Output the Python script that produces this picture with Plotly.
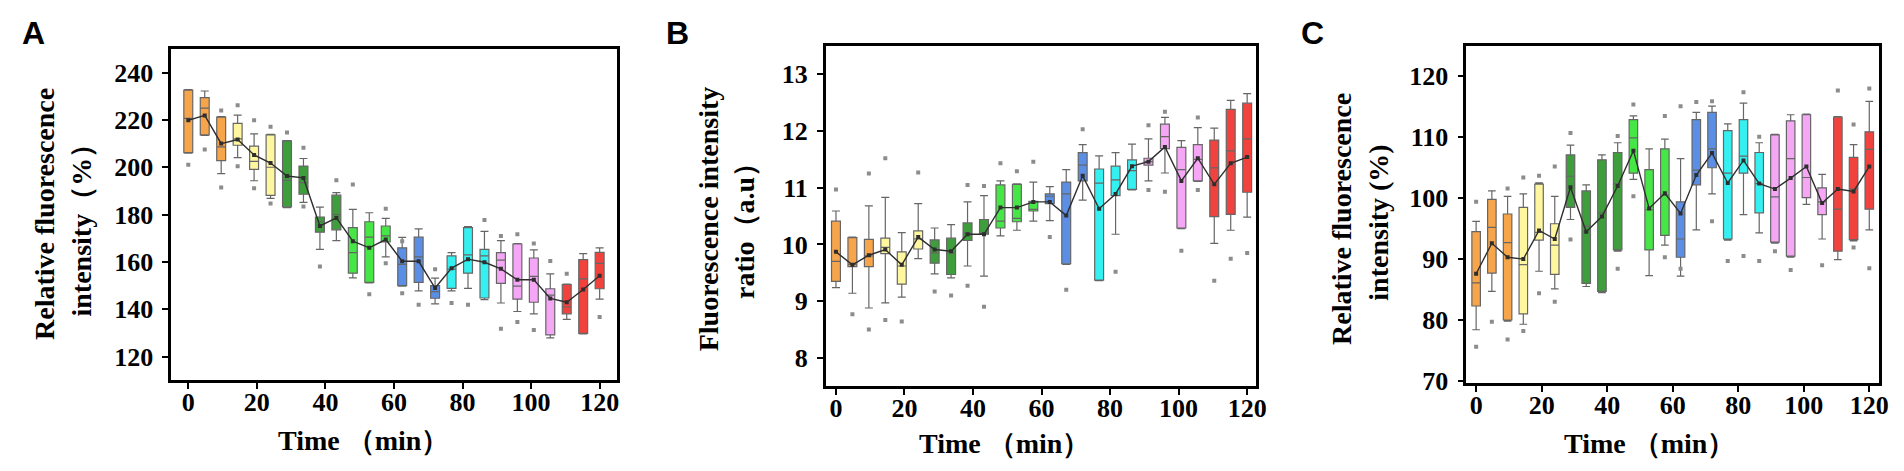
import plotly.graph_objects as go

W, H = 1904, 471

# time points (min) and colour group of each box
TIMES = [0, 4.8, 9.6, 14.4, 19.2, 24, 28.8, 33.6, 38.4, 43.2, 48, 52.8, 57.6,
         62.4, 67.2, 72, 76.8, 81.6, 86.4, 91.2, 96, 100.8, 105.6, 110.4, 115.2, 120]
GROUP = [0, 0, 0, 1, 1, 1, 2, 2, 2, 2, 3, 3, 3, 4, 4, 4, 5, 5, 5, 6, 6, 6, 6, 7, 7, 7]
COLORS = ["#F7A54A", "#FFF6A0", "#3E9E3C", "#46E646", "#5B8FE6", "#35F0F0", "#F5A6F5", "#F2423D"]

# ---- panel A: relative fluorescence intensity (%)
A_LO = [206, 213.5, 197.3, 204.1, 194.3, 186.9, 183, 185.2, 165.3, 169, 153.3, 151.2, 162.2,
        149.8, 147.8, 142.3, 147.8, 148.9, 144.1, 142.7, 139.1, 138.1, 128, 135.8, 129.6, 144.3]
A_Q1 = [206.2, 213.7, 202.8, 209.3, 199.1, 188.1, 183.3, 188.6, 172.6, 173.6, 155.3, 151.4, 168.5,
        150, 151.4, 144.7, 148.9, 155.3, 144.8, 151, 144.3, 143, 129.2, 138.1, 129.9, 148.7]
A_MED = [220.6, 225, 208.6, 212, 202.5, 200, 194.5, 193.5, 177, 180, 164, 170.5, 171,
         159, 162.2, 147.5, 157, 163, 162.6, 160.8, 149.8, 153.9, 146, 141, 152.9, 159.4]
A_Q3 = [232.6, 229.4, 221.2, 218.5, 208.9, 213.7, 211.1, 200.5, 179, 188.2, 174.5, 177, 175.2,
        166, 170.5, 150, 162.6, 174.5, 165.3, 164, 167.6, 161.7, 148.7, 150.5, 161, 164.1]
A_HI = [232.8, 232.2, 221.4, 222, 214.1, 213.9, 211.3, 203.7, 183.2, 189.3, 182.2, 180.8, 178.4,
        170.4, 174, 153.2, 164, 175, 172.9, 169, 167.8, 165.1, 155, 150.7, 163.5, 166]
A_MEAN = [219.8, 221.9, 210, 211.7, 205.2, 201.8, 196.3, 195.5, 175.2, 178.6, 168.8, 166, 169.5,
          160.3, 160.3, 149, 157.4, 161.2, 159.9, 157.1, 152.5, 152.5, 144.6, 143, 148.4, 154.2]
A_DOT_I = [0, 1, 2, 2, 3, 3, 4, 4, 5, 5, 6, 7, 7, 8, 9, 10, 11, 12, 12, 13, 13, 14, 15,
           16, 17, 18, 19, 19, 20, 20, 21, 21, 22, 23, 25]
A_DOT_V = [201.1, 207.5, 224, 191.5, 226.2, 200.4, 219.9, 191.1, 217.1, 184.7, 214.7, 208.2, 183.4,
           158.1, 194.5, 192.7, 146.4, 182.5, 159.5, 146.8, 168.8, 142, 156.9, 142.7, 142, 177.7,
           171, 131.8, 171.7, 134.7, 167.8, 131.3, 160.4, 155, 136.8]

# ---- panel B: fluorescence intensity ratio (a.u)
B_LO = [9.24, 9.14, 8.88, 8.97, 9.07, 9.75, 9.48, 9.41, 9.62, 9.44, 10.15, 10.25, 10.41,
        10.42, 9.65, 10.78, 9.36, 10.18, 10.96, 11.12, 11.26, 10.28, 11.11, 10.02, 10.25, 10.48]
B_Q1 = [9.35, 9.61, 9.61, 9.84, 9.30, 9.92, 9.67, 9.47, 10.07, 10.18, 10.29, 10.40, 10.59,
        10.72, 9.66, 11.12, 9.37, 10.86, 10.97, 11.40, 11.69, 10.29, 11.12, 10.49, 10.53, 10.92]
B_MED = [9.70, 9.65, 9.80, 9.95, 9.62, 10.10, 9.85, 9.85, 10.20, 10.20, 10.41, 10.46, 10.62,
         10.85, 10.89, 11.40, 11.08, 11.14, 11.30, 11.46, 11.90, 11.32, 11.50, 11.35, 11.65, 11.86]
B_Q3 = [10.41, 10.12, 10.09, 10.11, 9.87, 10.24, 10.08, 10.11, 10.38, 10.44, 11.05, 11.06, 10.76,
        10.89, 11.10, 11.62, 11.33, 11.38, 11.49, 11.52, 12.12, 11.71, 11.76, 11.84, 12.38, 12.49]
B_HI = [10.59, 10.13, 10.68, 10.83, 10.21, 10.72, 10.29, 10.35, 10.75, 10.86, 11.12, 11.07, 11.10,
        11.02, 11.32, 11.76, 11.56, 11.62, 11.77, 11.86, 12.24, 11.83, 12.06, 12.05, 12.54, 12.66]
B_MEAN = [9.87, 9.64, 9.81, 9.91, 9.64, 10.13, 9.91, 9.88, 10.18, 10.18, 10.65, 10.65, 10.75,
          10.75, 10.51, 11.21, 10.63, 10.89, 11.38, 11.46, 11.72, 11.12, 11.52, 11.06, 11.43, 11.54]
B_DOT_I = [0, 1, 2, 2, 3, 3, 4, 5, 6, 7, 8, 8, 9, 9, 10, 11, 12, 13, 14, 15, 17,
           19, 19, 20, 20, 21, 22, 22, 23, 24, 25]
B_DOT_V = [10.97, 8.77, 11.25, 8.5, 11.52, 8.67, 8.64, 11.27, 9.17, 9.10, 11.05, 9.27, 11.03, 8.9,
           11.43, 11.29, 11.46, 10.13, 9.20, 12.03, 9.52, 12.1, 10.96, 12.34, 10.93, 9.89,
           12.24, 10.96, 9.36, 9.75, 9.85]

# ---- panel C: relative fluorescence intensity (%)
C_LO = [78.4, 84.7, 79.8, 79.3, 88, 85.1, 96.5, 85.5, 84.5, 91.3, 103.1, 87.3, 92.3,
        87.2, 94.8, 100.7, 93.1, 97.3, 94.3, 92.6, 90.3, 99, 93.3, 89.9, 93, 94.8]
C_Q1 = [82.3, 87.7, 80, 81, 93.1, 87.5, 98.5, 86, 84.7, 91.5, 104.1, 91.5, 93.9,
        90.3, 102.2, 105, 93.3, 104.1, 97.6, 92.8, 90.5, 100.1, 97.3, 91.3, 93.2, 98.2]
C_MED = [86.1, 95.2, 92.7, 89.1, 94.4, 92.3, 103.6, 95.4, 97.6, 102.4, 109.9, 98.1, 100.5,
         93.3, 104.6, 108.1, 104.1, 106.9, 102.4, 100.2, 106.5, 103.4, 99.4, 98.2, 101.5, 108]
C_Q3 = [94.5, 99.8, 97.4, 98.5, 102.3, 95.8, 107.1, 101.2, 106.3, 107.5, 112.9, 104.7, 108.1,
        99.4, 112.9, 114.1, 111.1, 112.9, 107.5, 110.4, 112.7, 113.7, 101.7, 113.3, 106.7, 110.9]
C_HI = [96.2, 101.2, 100.3, 100.7, 102.5, 100.3, 108.7, 102.2, 107.1, 109.1, 113.5, 108.1, 109.7,
        106.5, 114.1, 115.1, 112.2, 115.6, 109.1, 110.5, 113.7, 113.8, 103.9, 113.4, 108.8, 115.9]
C_MEAN = [87.6, 92.6, 90.3, 90.0, 94.7, 93.3, 101.8, 94.5, 97.0, 102, 107.8, 98.3, 100.8,
          97.5, 103.8, 107.4, 102.5, 106.2, 102.4, 101.5, 103.3, 105.2, 99.2, 101.5, 101.1, 105.2]
C_DOT_I = [0, 0, 1, 2, 2, 3, 3, 4, 4, 5, 5, 6, 6, 9, 9, 10, 10, 12, 12, 13, 13, 14, 15, 15,
           16, 17, 17, 18, 18, 19, 20, 22, 23, 24, 24, 25, 25]
C_DOT_V = [99.4, 75.6, 79.7, 101.6, 76.8, 103.4, 78.2, 103.7, 84.4, 105.2, 83, 110.7, 93.2,
           110.2, 88.4, 115.4, 100.3, 113.5, 90.3, 115.1, 88.4, 115.8, 115.9, 96.2, 89.7, 117.4,
           90.5, 110.1, 89.7, 91.3, 88.2, 89, 117.7, 112.1, 91.9, 118, 88.5]

SERIF = "Liberation Serif, Times New Roman, serif"
SANS = "Liberation Sans, Arial, sans-serif"

fig = go.Figure()


def add_panel(n, lo, q1, med, q3, hi, mean, dot_i, dot_v):
    xa = "x" if n == 1 else f"x{n}"
    ya = "y" if n == 1 else f"y{n}"
    for g, col in enumerate(COLORS):
        idx = [i for i, gg in enumerate(GROUP) if gg == g]
        fig.add_trace(go.Box(
            x=[TIMES[i] for i in idx],
            q1=[q1[i] for i in idx], median=[med[i] for i in idx], q3=[q3[i] for i in idx],
            lowerfence=[lo[i] for i in idx], upperfence=[hi[i] for i in idx],
            width=2.6, whiskerwidth=0.9, fillcolor=col,
            line=dict(color="#666666", width=1.2),
            boxpoints=False, showlegend=False, hoverinfo="skip",
            xaxis=xa, yaxis=ya,
        ))
    fig.add_trace(go.Scatter(
        x=[TIMES[i] for i in dot_i], y=dot_v, mode="markers",
        marker=dict(size=4, symbol="square", color="#8c8c8c"),
        showlegend=False, xaxis=xa, yaxis=ya,
    ))
    fig.add_trace(go.Scatter(
        x=TIMES, y=mean, mode="lines+markers",
        line=dict(color="#2e2e2e", width=1.4),
        marker=dict(size=4, symbol="square", color="#2e2e2e"),
        showlegend=False, xaxis=xa, yaxis=ya,
    ))


add_panel(1, A_LO, A_Q1, A_MED, A_Q3, A_HI, A_MEAN, A_DOT_I, A_DOT_V)
add_panel(2, B_LO, B_Q1, B_MED, B_Q3, B_HI, B_MEAN, B_DOT_I, B_DOT_V)
add_panel(3, C_LO, C_Q1, C_MED, C_Q3, C_HI, C_MEAN, C_DOT_I, C_DOT_V)

# plot boxes in pixels: (left, right, top, bottom)
BOXES = [(164, 612, 42, 383), (822, 1255, 39, 389), (1466, 1881, 39, 386)]
XRANGES = [[-5, 125], [-3, 122.7], [-3, 123]]
YRANGES = [[110, 250], [7.5, 13.5], [69.6, 125]]
YTICKS = [list(range(120, 241, 20)), list(range(8, 14)), list(range(70, 121, 10))]

axis_common = dict(
    showline=True, linecolor="black", linewidth=2.5, mirror=True,
    showgrid=False, zeroline=False,
    ticks="outside", ticklen=6, tickwidth=2, tickcolor="black",
    tickfont=dict(family=SERIF, size=26, color="black", weight="bold"),
)

layout = dict(
    width=W, height=H,
    paper_bgcolor="white", plot_bgcolor="white",
    margin=dict(l=0, r=0, t=0, b=0),
    boxmode="overlay", showlegend=False,
)
for k, (l, r, t, b) in enumerate(BOXES):
    sfx = "" if k == 0 else str(k + 1)
    layout["xaxis" + sfx] = dict(
        axis_common, domain=[l / W, r / W], range=XRANGES[k],
        tickvals=list(range(0, 121, 20)), anchor="y" + sfx,
        ticklabelstandoff=-9,
    )
    layout["yaxis" + sfx] = dict(
        axis_common, domain=[1 - b / H, 1 - t / H], range=YRANGES[k],
        tickvals=YTICKS[k], anchor="x" + sfx,
        ticklabelstandoff=4,
    )
fig.update_layout(**layout)


def note(text, x, y, size, angle=0, family=SERIF):
    fig.add_annotation(
        text=text, x=x / W, y=1 - y / H, xref="paper", yref="paper",
        showarrow=False, textangle=angle, xanchor="center", yanchor="middle",
        font=dict(family=family, size=size, color="black", weight="bold"),
    )


# panel letters
note("A", 26, 26, 32, family=SANS)
note("B", 673, 26, 32, family=SANS)
note("C", 1311, 26, 32, family=SANS)

# y titles (two lines each)
note("Relative fluorescence", 36, 212, 28, -90)
note("intensity（%）", 74, 221, 28, -90)
note("Fluorescence intensity", 704, 217, 28, -90)
note("ratio（a.u）", 741, 222, 28, -90)
note("Relative fluorescence", 1340, 217, 28, -90)
note("intensity (%)", 1378, 221, 28, -90)

# x titles
note("Time （min）", 357, 445, 28)
note("Time （min）", 1002, 448, 28)
note("Time （min）", 1650, 448, 28)

fig.write_html("out.html")
